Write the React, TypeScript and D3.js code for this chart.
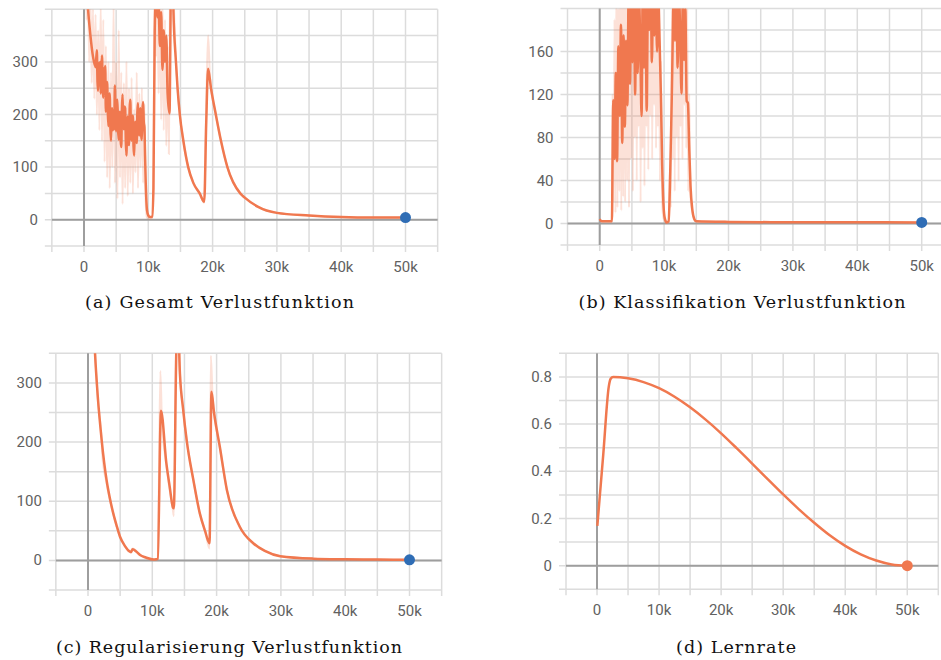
import React, { useEffect, useRef } from "react";
import * as d3 from "d3";

// steps are in thousands (k)
const xTickSteps = [0, 10, 20, 30, 40, 50];
const xTickLabels = ["0", "10k", "20k", "30k", "40k", "50k"];

const captions = [
  "(a) Gesamt Verlustfunktion",
  "(b) Klassifikation Verlustfunktion",
  "(c) Regularisierung Verlustfunktion",
  "(d) Lernrate",
];

// (a) total loss
const gesamtTicks = [0, 100, 200, 300];
const gesamtSmooth = [
  [0.3, 470], [0.6, 405], [1.0, 350], [1.4, 310], [1.8, 290],
  [2.0, 322], [2.1, 262], [2.2, 245], [2.3, 298], [2.4, 280], [2.5, 300], [2.6, 240], [2.7, 290],
  [2.8, 312], [2.9, 250], [3.0, 232], [3.1, 288], [3.2, 270], [3.3, 292], [3.4, 205], [3.5, 255],
  [3.6, 262], [3.7, 205], [3.8, 178], [3.9, 232], [4.0, 240], [4.1, 175], [4.2, 150], [4.3, 205],
  [4.4, 212], [4.5, 170], [4.6, 195], [4.7, 172], [4.8, 255], [4.9, 196], [5.0, 168], [5.1, 222],
  [5.2, 228], [5.3, 172], [5.4, 152], [5.5, 198], [5.6, 205], [5.7, 150], [5.8, 138], [5.9, 212],
  [6.0, 238], [6.1, 180], [6.2, 172], [6.3, 215], [6.4, 212], [6.5, 150], [6.6, 122], [6.7, 180],
  [6.8, 196], [6.9, 150], [7.0, 142], [7.1, 212], [7.2, 228], [7.3, 168], [7.4, 150], [7.5, 195],
  [7.6, 198], [7.7, 140], [7.8, 122], [7.9, 176], [8.0, 186], [8.1, 150], [8.2, 146], [8.3, 205],
  [8.4, 222], [8.5, 172], [8.6, 160], [8.7, 205], [8.8, 212], [8.9, 160], [9.0, 152], [9.1, 210],
  [9.2, 224], [9.3, 185], [9.4, 176], [9.5, 120], [9.6, 70], [9.8, 18],
  [10.0, 8], [10.3, 5], [10.6, 6], [10.8, 60], [11.0, 360], [11.2, 430], [11.4, 385], [11.6, 410],
  [11.8, 330], [12.0, 395], [12.2, 285], [12.4, 360], [12.6, 300], [12.8, 350], [13.0, 240],
  [13.3, 202], [13.5, 430], [13.7, 520], [13.9, 400], [14.3, 300], [14.55, 250], [14.9, 200],
  [15.45, 150], [16.2, 100], [17.0, 70], [18.0, 50], [18.7, 34], [19.0, 180], [19.3, 287],
  [19.75, 250], [20.5, 200], [21.3, 150], [22.3, 100], [24.3, 50], [25, 42], [27, 25], [30, 13],
  [35, 8], [40, 5], [45, 4], [50, 4],
];
const gesamtRaw = [
  [0.2, 520], [0.4, 380], [0.6, 470], [0.8, 300], [1.0, 420], [1.2, 260], [1.4, 400], [1.6, 230],
  [1.8, 390], [2.0, 200], [2.2, 360], [2.4, 170], [2.6, 410], [2.8, 150], [3.0, 380], [3.2, 110],
  [3.4, 330], [3.6, 80], [3.8, 300], [4.0, 60], [4.2, 280], [4.4, 100], [4.6, 410], [4.8, 70],
  [5.0, 300], [5.2, 40], [5.4, 360], [5.6, 80], [5.8, 280], [6.0, 30], [6.2, 260], [6.4, 60],
  [6.6, 300], [6.8, 45], [7.0, 250], [7.2, 70], [7.4, 270], [7.6, 50], [7.8, 210], [8.0, 90],
  [8.2, 280], [8.4, 60], [8.6, 240], [8.8, 100], [9.0, 250], [9.2, 70], [9.4, 220], [9.6, 30],
  [9.8, 4], [10.0, 2], [10.3, 2], [10.6, 3], [10.8, 70], [11.0, 450], [11.2, 310], [11.4, 470],
  [11.6, 240], [11.8, 450], [12.0, 190], [12.2, 420], [12.4, 170], [12.6, 380], [12.8, 140],
  [13.0, 330], [13.2, 125], [13.4, 480], [13.7, 520], [14.0, 400], [14.3, 300], [14.55, 250],
  [14.9, 200], [15.45, 150], [16.2, 100], [17.0, 70], [18.0, 48], [18.7, 32], [19.0, 210],
  [19.3, 350], [19.6, 270], [20.5, 200], [21.3, 150], [22.3, 100], [24.3, 50], [25, 42], [27, 25],
  [30, 13], [35, 8], [40, 5], [45, 4], [50, 4],
];

// (b) classification loss
const klassTicks = [0, 40, 80, 120, 160];
const klassSmooth = [
  [0, 4], [0.3, 2], [1.0, 2], [1.9, 2], [2.0, 60], [2.1, 115], [2.3, 60], [2.5, 140], [2.7, 58],
  [2.9, 165], [3.1, 100], [3.3, 185], [3.5, 75], [3.7, 175], [3.9, 90], [4.1, 170], [4.3, 110],
  [4.5, 220], [4.7, 130], [4.9, 230], [5.1, 150], [5.3, 215], [5.5, 120], [5.7, 240], [5.9, 140],
  [6.1, 210], [6.3, 165], [6.5, 100], [6.7, 230], [6.9, 145], [7.1, 205], [7.3, 105], [7.5, 220],
  [7.7, 180], [7.9, 235], [8.1, 150], [8.3, 215], [8.5, 175], [8.7, 230], [8.9, 160], [9.1, 210],
  [9.3, 170], [9.5, 120], [9.7, 55], [9.9, 18], [10.1, 5], [10.4, 1], [10.7, 2], [10.9, 34],
  [11.2, 120], [11.5, 210], [11.7, 170], [11.9, 230], [12.1, 145], [12.3, 215], [12.5, 176],
  [12.7, 121], [12.9, 205], [13.1, 152], [13.3, 200], [13.5, 114], [13.7, 112], [13.9, 70],
  [14.1, 35], [14.4, 12], [14.7, 4], [15.0, 2], [20, 1.5], [30, 1.2], [40, 1.2], [50, 1],
];
const klassRaw = [
  [0, 4], [0.3, 2], [1.9, 2], [2.0, 120], [2.15, 20], [2.3, 190], [2.45, 10], [2.6, 230],
  [2.75, 15], [2.9, 200], [3.05, 30], [3.2, 240], [3.35, 12], [3.5, 210], [3.65, 25], [3.8, 250],
  [3.95, 20], [4.1, 230], [4.25, 40], [4.4, 260], [4.55, 15], [4.7, 280], [4.85, 60], [5.0, 300],
  [5.15, 30], [5.3, 260], [5.45, 80], [5.6, 300], [5.75, 40], [5.9, 270], [6.05, 90], [6.2, 280],
  [6.35, 20], [6.5, 250], [6.65, 70], [6.8, 300], [6.95, 35], [7.1, 260], [7.25, 90], [7.4, 290],
  [7.55, 50], [7.7, 270], [7.85, 100], [8.0, 300], [8.15, 60], [8.3, 260], [8.45, 110],
  [8.6, 280], [8.75, 70], [8.9, 250], [9.05, 90], [9.2, 240], [9.35, 40], [9.5, 150], [9.7, 20],
  [9.9, 5], [10.1, 2], [10.4, 1], [10.7, 2], [10.9, 50], [11.05, 15], [11.2, 200], [11.35, 60],
  [11.5, 260], [11.65, 30], [11.8, 280], [11.95, 80], [12.1, 250], [12.25, 40], [12.4, 270],
  [12.55, 90], [12.7, 230], [12.85, 60], [13.0, 260], [13.15, 110], [13.3, 240], [13.45, 70],
  [13.6, 200], [13.75, 30], [13.9, 120], [14.1, 25], [14.4, 10], [14.7, 3], [15.0, 2], [20, 1.5],
  [30, 1.2], [40, 1.2], [50, 1],
];

// (c) regularisation loss
const regTicks = [0, 100, 200, 300];
const regSmooth = [
  [0.8, 420], [1.09, 350], [1.5, 280], [2.13, 203], [2.9, 135], [3.4, 105], [3.94, 79], [4.5, 57],
  [4.98, 40], [5.7, 25], [6.5, 15], [6.7, 14], [6.95, 19], [7.5, 15], [8.1, 9], [9.0, 5],
  [10.2, 1.5], [10.6, 2], [10.85, 3], [11.35, 253], [12.2, 163], [12.7, 125], [13.2, 90],
  [13.35, 88], [13.75, 360], [14.0, 400], [14.3, 315], [14.8, 255], [15.35, 203], [16.4, 135],
  [17.4, 79], [18.2, 50], [18.9, 29], [19.2, 285], [19.6, 250], [20.5, 192], [21.6, 119],
  [23.6, 57], [25.7, 29], [27.5, 16], [29.9, 7], [35, 3], [40, 2], [45, 1.5], [50, 1],
];
const regRaw = [
  [0.8, 430], [1.09, 355], [1.5, 275], [2.13, 200], [2.2, 180], [2.9, 130], [3.94, 78],
  [4.98, 40], [5.7, 25], [6.5, 14], [6.95, 20], [8.1, 9], [10.2, 1.5], [10.85, 3], [11.25, 320],
  [11.5, 235], [12.2, 160], [13.2, 85], [13.35, 75], [13.75, 380], [14.0, 420], [14.3, 315],
  [14.8, 255], [15.35, 203], [16.4, 135], [17.4, 79], [18.2, 50], [18.9, 20], [19.1, 346],
  [19.4, 270], [20.5, 192], [21.6, 119], [23.6, 57], [25.7, 29], [27.5, 16], [29.9, 7], [35, 3],
  [40, 2], [45, 1.5], [50, 1],
];

// (d) learning rate
const lrTicks = [0, 0.2, 0.4, 0.6, 0.8];
const lrValues = [
  [0.05, 0.169], [1.0, 0.47], [1.9, 0.76], [2.2, 0.792], [2.6, 0.8], [5, 0.794], [7.5, 0.778],
  [10, 0.752], [12.5, 0.716], [15, 0.671], [17.5, 0.619], [20, 0.561], [22.5, 0.498],
  [25, 0.433], [27.5, 0.367], [30, 0.302], [32.5, 0.24], [35, 0.182], [37.5, 0.129],
  [40, 0.084], [42.5, 0.048], [45, 0.022], [47.5, 0.0055], [50, 0],
];

const LINE = "#f0784f";
const DOT_BLUE = "#2f6db5";

const panels = [
  {
    id: "a", caption: captions[0], smooth: gesamtSmooth, raw: gesamtRaw, yTicks: gesamtTicks,
    yDomain: [-50, 400], gridStep: 50, left: 51.85, right: 437.65, top: 9.3, bottom: 246,
    capX: 219.5, capY: 308, capW: 269, dot: DOT_BLUE,
  },
  {
    id: "b", caption: captions[1], smooth: klassSmooth, raw: klassRaw, yTicks: klassTicks,
    yDomain: [-20, 200], gridStep: 20, left: 567.5, right: 953.9, top: 8.5, bottom: 245,
    capX: 742, capY: 308, capW: 327, dot: DOT_BLUE,
  },
  {
    id: "c", caption: captions[2], smooth: regSmooth, raw: regRaw, yTicks: regTicks,
    yDomain: [-50, 350], gridStep: 50, left: 55.85, right: 441.65, top: 353.3, bottom: 590,
    capX: 229, capY: 653, capW: 346, dot: DOT_BLUE,
  },
  {
    id: "d", caption: captions[3], smooth: lrValues, raw: null, yTicks: lrTicks,
    yDomain: [-0.1, 0.9], gridStep: 0.1, left: 566, right: 938.3, top: 353.3, bottom: 589.3,
    capX: 736, capY: 653, capW: 120, dot: LINE,
  },
];

function drawPanel(svg, p) {
  const x = d3.scaleLinear().domain([-5, 55]).range([p.left, p.right]);
  const y = d3.scaleLinear().domain(p.yDomain).range([p.bottom, p.top]);
  const g = svg.append("g");

  // grid
  const xs = d3.range(-5, 55.01, 5);
  g.selectAll(".vgrid").data(xs).enter().append("line")
    .attr("x1", d => x(d)).attr("x2", d => x(d))
    .attr("y1", p.top).attr("y2", p.bottom + 6)
    .attr("stroke", "#dcdcdc").attr("stroke-width", 1.5);
  const n = Math.round((p.yDomain[1] - p.yDomain[0]) / p.gridStep);
  const ys = d3.range(0, n + 1).map(i => p.yDomain[0] + i * p.gridStep);
  g.selectAll(".hgrid").data(ys).enter().append("line")
    .attr("x1", p.left - 7).attr("x2", p.right)
    .attr("y1", d => y(d)).attr("y2", d => y(d))
    .attr("stroke", "#dcdcdc").attr("stroke-width", 1.5);

  // zero axes
  g.append("line").attr("x1", x(0)).attr("x2", x(0)).attr("y1", p.top).attr("y2", p.bottom)
    .attr("stroke", "#9e9e9e").attr("stroke-width", 2);
  g.append("line").attr("x1", p.left).attr("x2", p.right).attr("y1", y(0)).attr("y2", y(0))
    .attr("stroke", "#9e9e9e").attr("stroke-width", 2);

  // labels
  const fmt = p.gridStep < 1 ? d3.format(".1~f") : d3.format("d");
  g.selectAll(".ylab").data(p.yTicks).enter().append("text")
    .attr("x", p.left - 14).attr("y", d => y(d))
    .attr("text-anchor", "end").attr("dominant-baseline", "central")
    .attr("font-family", "Roboto, sans-serif").attr("font-size", 15).attr("fill", "#616161")
    .text(d => fmt(d));
  g.selectAll(".xlab").data(xTickSteps).enter().append("text")
    .attr("x", (d) => x(d)).attr("y", p.bottom + 26)
    .attr("text-anchor", "middle")
    .attr("font-family", "Roboto, sans-serif").attr("font-size", 15).attr("fill", "#616161")
    .text((d, i) => xTickLabels[i]);

  // lines
  const clipId = "clip-" + p.id;
  svg.append("clipPath").attr("id", clipId).append("rect")
    .attr("x", p.left).attr("y", p.top).attr("width", p.right - p.left).attr("height", p.bottom - p.top);
  const lines = g.append("g").attr("clip-path", "url(#" + clipId + ")");
  const curveLine = d3.line().x(d => x(d[0])).y(d => y(d[1])).curve(d3.curveMonotoneX);
  if (p.raw) {
    lines.append("path").attr("d", curveLine(p.raw)).attr("fill", "none")
      .attr("stroke", LINE).attr("stroke-opacity", 0.22).attr("stroke-width", 2);
  }
  lines.append("path").attr("d", curveLine(p.smooth)).attr("fill", "none")
    .attr("stroke", LINE).attr("stroke-width", 2.5).attr("stroke-linejoin", "round");

  const last = p.smooth[p.smooth.length - 1];
  g.append("circle").attr("cx", x(last[0])).attr("cy", y(last[1])).attr("r", 5.5).attr("fill", p.dot);

  // caption
  g.append("text").attr("x", p.capX).attr("y", p.capY).attr("text-anchor", "middle")
    .attr("font-family", "'DejaVu Serif', serif").attr("font-size", 17.5).attr("fill", "#111")
    .attr("textLength", p.capW).attr("lengthAdjust", "spacing")
    .text(p.caption);
}

export default function App() {
  const ref = useRef(null);
  useEffect(() => {
    const svg = d3.select(ref.current);
    svg.selectAll("*").remove();
    panels.forEach(p => drawPanel(svg, p));
  }, []);
  return (
    <svg ref={ref} width={941} height={660}
      style={{ position: "absolute", left: 0, top: 0, background: "#fff" }} />
  );
}
